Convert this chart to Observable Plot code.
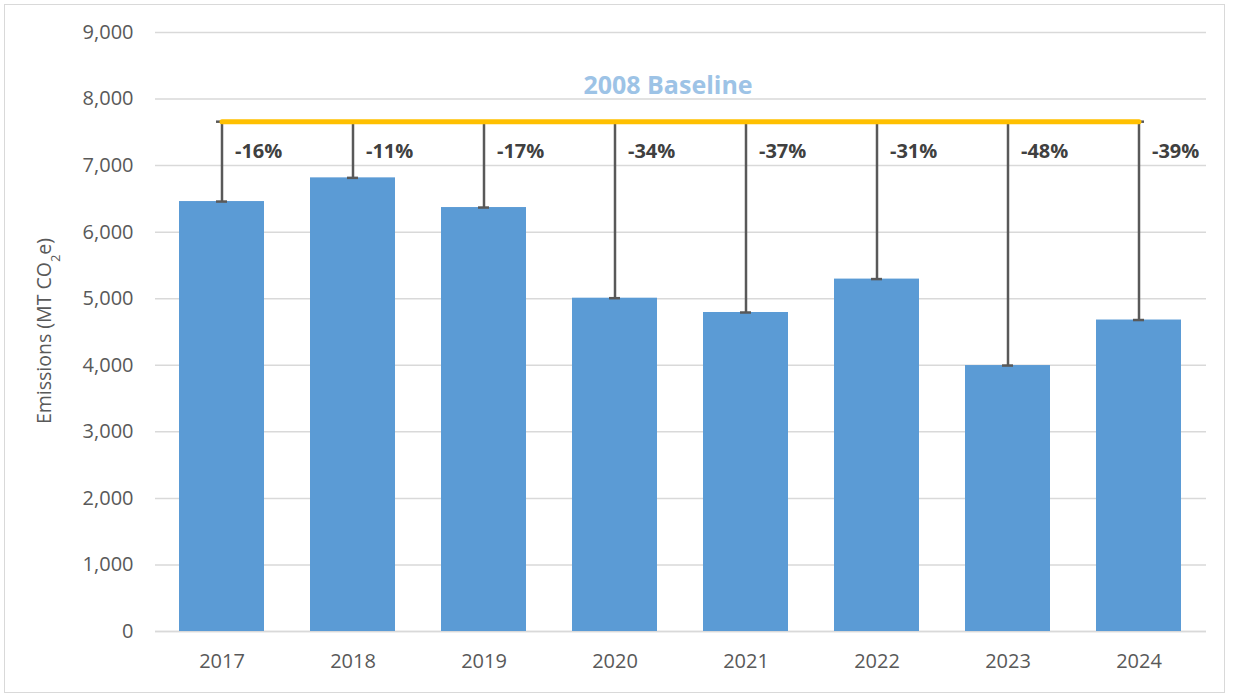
<!DOCTYPE html>
<html>
<head>
<meta charset="utf-8">
<script src="https://cdn.jsdelivr.net/npm/d3@7"></script>
<script src="https://cdn.jsdelivr.net/npm/@observablehq/plot@0.6"></script>
<style>
  html, body { margin: 0; padding: 0; background: #fff; }
  #wrap { position: relative; width: 1236px; height: 694px; }
  #border { position: absolute; left: 4px; top: 4px; width: 1221px; height: 689px; border: 1.5px solid #D9D9D9; box-sizing: border-box; pointer-events: none; }
  #chart { position: absolute; left: 0; top: 0; }
</style>
</head>
<body>
<div id="wrap"><div id="chart"></div><div id="border"></div></div>
<script>
const years = ["2017", "2018", "2019", "2020", "2021", "2022", "2023", "2024"];
const emissions = [6460, 6816, 6370, 5008, 4793, 5295, 3996, 4680];
const changeLabels = ["-16%", "-11%", "-17%", "-34%", "-37%", "-31%", "-48%", "-39%"];
const baseline = 7660;
const baselineLabel = "2008 Baseline";
const yTicks = [0, 1000, 2000, 3000, 4000, 5000, 6000, 7000, 8000, 9000];

const data = years.map((y, i) => ({year: y, value: emissions[i], label: changeLabels[i], base: baseline}));

const font = "'Open Sans', Lato, sans-serif";

const plot = Plot.plot({
  width: 1236,
  height: 694,
  marginLeft: 155,
  marginRight: 30,
  marginTop: 32,
  marginBottom: 63,
  style: {fontFamily: font, fontSize: "20px", color: "#595959", background: "transparent"},
  x: {domain: years, paddingInner: 0.35, paddingOuter: 0.175, label: null},
  y: {domain: [0, 9000], label: null},
  marks: [
    Plot.gridY(yTicks, {stroke: "#D9D9D9", strokeOpacity: 1, strokeWidth: 1.5}),
    Plot.ruleY([0], {stroke: "#D9D9D9", strokeWidth: 1.5}),
    Plot.axisY(yTicks, {tickSize: 0, tickPadding: 22, tickFormat: d3.format(","), fontSize: 20, fill: "#595959", label: null}),
    Plot.axisX({tickSize: 0, tickPadding: 22, fontSize: 20, fill: "#595959", label: null}),
    Plot.barY(data, {x: "year", y: "value", fill: "#5B9BD5"}),
    Plot.ruleX(data, {x: "year", y1: "base", y2: "value", stroke: "#595959", strokeWidth: 2.5}),
    Plot.tickY(data, {x: "year", y: "value", stroke: "#595959", strokeWidth: 2.5, insetLeft: 37, insetRight: 37}),
    Plot.tickY([data[0], data[data.length - 1]], {x: "year", y: "base", stroke: "#595959", strokeWidth: 2.5, insetLeft: 37, insetRight: 37}),
    Plot.lineY(data, {x: "year", y: "base", stroke: "#FFC000", strokeWidth: 5}),
    Plot.text(data, {x: "year", y: "base", text: "label", dx: 13, dy: 30, textAnchor: "start", fontWeight: "bold", fontSize: 20, fill: "#404040"}),
    Plot.text([baselineLabel], {frameAnchor: "top", text: d => d, dx: -13, dy: 44, fontWeight: "bold", fontSize: 25, fill: "#9DC3E6"})
  ]
});

document.getElementById("chart").appendChild(plot);

// Y-axis title with subscript
const svg = d3.select(plot);
const t = svg.append("text")
  .attr("transform", "translate(51,331) rotate(-90)")
  .attr("text-anchor", "middle")
  .attr("fill", "#595959")
  .style("font-family", font)
  .style("font-size", "19.5px");
t.append("tspan").text("Emissions (MT CO");
t.append("tspan").attr("baseline-shift", "sub").style("font-size", "13px").text("2");
t.append("tspan").text("e)");
</script>
</body>
</html>
